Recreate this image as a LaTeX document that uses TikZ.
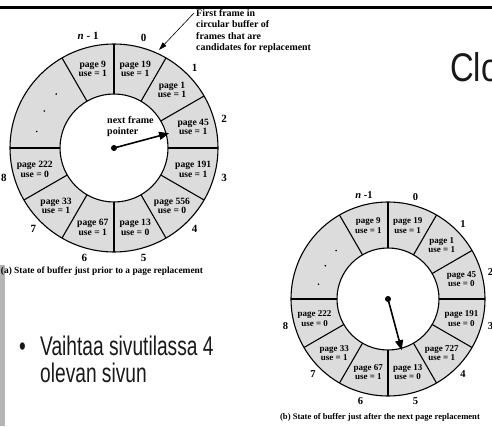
\documentclass[tikz,border=0pt]{standalone}
\usepackage{fontspec}
\setmainfont{Liberation Serif}
\newfontfamily\slidefont[FakeStretch=0.71]{Liberation Sans}
\newfontfamily\titlefont[FakeStretch=0.82]{Liberation Sans}
\usetikzlibrary{arrows.meta}
\definecolor{segfill}{HTML}{DCDCDC}
\definecolor{stripgray}{HTML}{B4B4B4}
\tikzset{
  ring/.style={line width=1.1pt, black},
  segtext/.style={font=\fontsize{9.6}{9.6}\selectfont\bfseries, align=center, inner sep=0pt},
  segtextb/.style={font=\fontsize{9}{9.2}\selectfont\bfseries, align=center, inner sep=0pt},
  numlabel/.style={font=\fontsize{11}{12}\selectfont\bfseries, inner sep=0pt},
  numlabelb/.style={font=\fontsize{10.5}{11}\selectfont\bfseries, inner sep=0pt},
  pointer/.style={line width=1.6pt, -{Triangle[length=10pt,width=8pt]}},
  caption/.style={font=\fontsize{9.4}{10}\selectfont\bfseries, inner sep=0pt},
  slide/.style={inner sep=0pt, text=black!90},
}
\begin{document}
\begin{tikzpicture}[x=1pt,y=1pt]
\useasboundingbox (0,0) rectangle (492,426);
% top bar
\fill[black] (0,417) rectangle (492,420);
% left strip
\fill[stripgray] (0,0) rectangle (5,161);

% ---------- diagram (a)
\begin{scope}[shift={(114,278)}]
  \fill[segfill] (0,0) circle (104);
  \fill[white] (0,0) circle (54);
  \foreach \a in {90,60,30,0,-30,-60,-90,-120,-150,180,120}
    \draw[ring] (\a:54) -- (\a:104);
  \draw[ring] (0,0) circle (104);
  \draw[ring] (0,0) circle (54);
  \foreach \ang/\pg/\u [count=\i] in {75/19/1,45/1/1,15/45/1,-15/191/1,-45/556/0,-75/13/0,-105/67/1,-135/33/1,-165/222/0,105/9/1}
    \node[segtext] (a-p\i) at (\ang:82) {page \pg\\use = \u};
  \foreach \ang/\lab [count=\i] in {75/0,45/1,15/2,-15/3,-45/4,-75/5,-105/6,-135/7,-165/8}
    \node[numlabel] (a-n\i) at (\ang:114) {\lab};
  \node[numlabel] (a-nn) at (103:115) {\textit{n} - 1};
  \foreach \ang [count=\i] in {137,152,168}
    \fill (\ang:79) circle (0.9) coordinate (a-d\i);
  \node[circle, fill=black, inner sep=0pt, minimum size=6pt] (a-c) at (0,0) {};
  \coordinate (a-tip) at (15:57);
  \draw[pointer] (a-c.center) -- (a-tip);
  \node[font=\fontsize{10}{11}\selectfont\bfseries, align=left, anchor=west, inner sep=0pt] (a-nf) at (-7,21) {next frame\\pointer};
\end{scope}
% callout
\node[font=\fontsize{9.9}{11.5}\selectfont\bfseries, align=left, anchor=west, inner sep=0pt] (callout) at (196,395) {First frame in\\circular buffer of\\frames that are\\candidates for replacement};
\coordinate (cstart) at (194,413);
\coordinate (ctip) at (159,376);
\draw[line width=0.6pt, -{Triangle[length=8pt,width=5pt]}] (cstart) -- (ctip);
\node[caption] (capa) at (102,155) {(a) State of buffer just prior to a page replacement};

% ---------- diagram (b)
\begin{scope}[shift={(388,127)}]
  \fill[segfill] (0,0) circle (97);
  \fill[white] (0,0) circle (51);
  \foreach \a in {90,60,30,0,-30,-60,-90,-120,-150,180,120}
    \draw[ring] (\a:51) -- (\a:97);
  \draw[ring] (0,0) circle (97);
  \draw[ring] (0,0) circle (51);
  \foreach \ang/\pg/\u [count=\i] in {75/19/1,45/1/1,15/45/0,-15/191/0,-45/727/1,-75/13/0,-105/67/1,-135/33/1,-165/222/0,105/9/1}
    \node[segtextb] (b-p\i) at (\ang:76) {page \pg\\use = \u};
  \foreach \ang/\lab [count=\i] in {75/0,45/1,15/2,-15/3,-45/4,-75/5,-105/6,-135/7,-165/8}
    \node[numlabelb] (b-n\i) at (\ang:106) {\lab};
  \node[numlabelb] (b-nn) at (103:107) {\textit{n} -1};
  \foreach \ang [count=\i] in {137,152,168}
    \fill (\ang:71) circle (0.9) coordinate (b-d\i);
  \node[circle, fill=black, inner sep=0pt, minimum size=6pt] (b-c) at (0,0) {};
  \coordinate (b-tip) at (-75:53);
  \draw[pointer] (b-c.center) -- (b-tip);
\end{scope}
\node[caption, font=\fontsize{8.6}{10}\selectfont\bfseries] (capb) at (380,9) {(b) State of buffer just after the next page replacement};

% ---------- slide text
\node[slide, font=\titlefont\fontsize{40}{42}\selectfont, anchor=base west] (title) at (450,344) {Clo};
\node[slide, font=\slidefont\fontsize{27}{27}\selectfont, anchor=base west] (bul) at (19,71) {•};
\node[slide, font=\slidefont\fontsize{27}{27}\selectfont, anchor=base west, align=left] (txt) at (40,44) {Vaihtaa sivutilassa 4\\olevan sivun};
\end{tikzpicture}
\end{document}
